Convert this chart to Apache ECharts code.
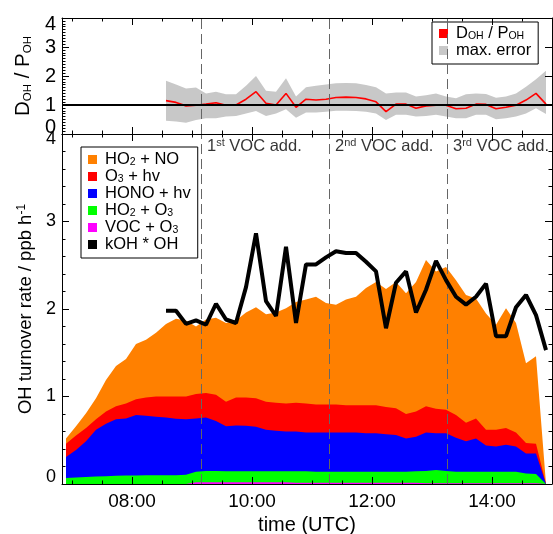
<!DOCTYPE html>
<html><head><meta charset="utf-8">
<script src="https://cdn.jsdelivr.net/npm/echarts@6/dist/echarts.min.js"></script>
<style>html,body{margin:0;padding:0;background:#fff}#c{width:553px;height:534px}</style>
</head><body><div id="c"></div>
<script>
// ---------------- data ----------------
const times = ['06:54','07:04','07:14','07:24','07:34','07:44','07:54','08:04','08:14','08:24',
  '08:34','08:44','08:54','09:04','09:14','09:24','09:34','09:44','09:54','10:04',
  '10:14','10:24','10:34','10:44','10:54','11:04','11:14','11:24','11:34','11:44',
  '11:54','12:04','12:14','12:24','12:34','12:44','12:54','13:04','13:14','13:24',
  '13:34','13:44','13:54','14:04','14:14','14:24','14:34','14:44','14:54'];
// OH production terms (ppb/h), stacked from the bottom: VOC+O3, HO2+O3, HONO+hv, O3+hv, HO2+NO
const vocO3 = [0,0,0,0,0,0,0,0,0,0, 0,0,0,.02,.02,.02,.02,.02,.02,.02,
  .02,.02,.02,.015,.015,.015,.015,.015,.015,.015, .015,.015,.015,.015,.015,.015,.01,.01,.01,.01,
  .01,.01,.01,.01,.01,.01,.01,.01,0];
const ho2O3 = [.068,.075,.08,.085,.09,.093,.096,.098,.10,.10, .10,.10,.105,.12,.13,.128,.125,.125,.125,.125,
  .125,.125,.125,.13,.13,.125,.125,.125,.125,.125, .125,.125,.125,.125,.125,.13,.14,.15,.14,.13,
  .13,.13,.13,.13,.13,.13,.11,.105,0];
const honoHv = [.242,.315,.41,.535,.60,.647,.654,.692,.68,.67, .66,.645,.635,.61,.61,.572,.515,.525,.52,.51,
  .475,.465,.455,.455,.445,.45,.45,.45,.45,.45, .44,.44,.43,.42,.38,.395,.44,.42,.43,.39,
  .35,.38,.30,.29,.31,.29,.23,.235,0];
const o3Hv = [.15,.165,.15,.12,.14,.15,.17,.18,.21,.23, .24,.255,.26,.28,.28,.30,.28,.32,.325,.325,
  .32,.32,.32,.33,.33,.32,.32,.32,.31,.31, .32,.32,.31,.305,.28,.29,.30,.28,.27,.26,
  .21,.23,.18,.19,.19,.16,.12,.11,0];
const ho2No = [.06,.105,.17,.24,.36,.46,.51,.63,.66,.73, .83,.89,.87,.77,.84,.88,.90,.88,.97,1.04,
  1.00,1.03,1.09,1.15,1.19,1.23,1.16,1.14,1.21,1.24, 1.34,1.41,1.35,1.445,1.38,1.48,1.67,1.57,1.63,1.54,
  1.46,1.37,1.33,1.20,1.37,1.25,.91,1.00,0];
// OH destruction kOH*OH (ppb/h)
const kohOh = [null,null,null,null,null,null,null,null,null,null,
  1.98,1.98,1.83,1.87,1.82,2.06,1.88,1.84,2.25,2.865,
  2.09,1.92,2.71,1.84,2.51,2.51,2.59,2.66,2.64,2.64,
  2.54,2.43,1.78,2.30,2.43,1.96,2.22,2.55,2.33,2.14,
  2.05,2.14,2.29,1.69,1.69,2.02,2.16,1.93,1.53];
// D_OH / P_OH and its max. error range
const ratio = [null,null,null,null,null,null,null,null,null,null,
  1.15,1.09,0.97,0.99,1.03,1.08,0.99,1.00,1.20,1.46,
  1.06,1.00,1.40,0.92,1.20,1.17,1.20,1.26,1.27,1.26,
  1.21,1.11,0.77,1.03,1.03,0.89,0.97,0.99,0.99,0.87,
  0.89,1.03,1.02,0.87,0.92,0.99,1.17,1.40,1.03];
const errLow = [null,null,null,null,null,null,null,null,null,null,
  0.46,0.43,0.39,0.48,0.54,0.54,0.60,0.62,0.71,0.79,
  0.62,0.71,0.85,0.56,0.74,0.74,0.77,0.80,0.80,0.79,
  0.77,0.71,0.48,0.66,0.66,0.60,0.62,0.66,0.60,0.54,
  0.54,0.66,0.66,0.51,0.54,0.60,0.71,0.89,0.69];
const errHigh = [null,null,null,null,null,null,null,null,null,null,
  1.84,1.71,1.57,1.60,1.40,1.46,1.37,1.37,1.66,2.00,
  1.49,1.46,1.92,1.29,1.61,1.66,1.71,1.75,1.76,1.75,
  1.69,1.61,1.40,1.43,1.43,1.29,1.34,1.40,1.29,1.23,
  1.37,1.40,1.38,1.25,1.29,1.40,1.63,1.89,2.18];
const vocAdditions = ['09:09','11:17','13:15'];
const vocLabels = ['1st','2nd','3rd'];
const xTickLabels = ['08:00','10:00','12:00','14:00'];
const yTickLabels = ['0','1','2','3','4'];

// ---------------- helpers ----------------
const FONT = '"Liberation Sans", Arial, Helvetica, sans-serif';
const toH = s => { const [h, m] = s.split(':').map(Number); return h + m / 60; };
const T = times.map(toH);
const pairs = arr => arr.map((v, i) => [T[i], v]);
const X_MIN = 6 + 50 / 60, X_MAX = 15;
const majorX = xTickLabels.map(toH);
const tickX = [];
for (let v = 7; v < X_MAX; v += 0.5) tickX.push(v);

function xAx(grid, pos, labels) {
  const a = {
    type: 'value', gridIndex: grid, position: pos, min: X_MIN, max: X_MAX, z: 10,
    axisLine: { show: true, onZero: false, lineStyle: { color: '#000', width: 1 } },
    axisTick: { show: false },
    axisLabel: { show: false },
    splitLine: { show: false }
  };
  if (labels) {
    a.axisLabel = { show: true, customValues: majorX, margin: 8, fontSize: 19, color: '#000', fontFamily: FONT,
      formatter: v => { const i = majorX.findIndex(m => Math.abs(m - v) < 1e-6); return i >= 0 ? xTickLabels[i] : ''; } };
  }
  return a;
}
function yAx(grid, pos, minorSplit, labelSize, shiftMin, shiftMax) {
  const a = {
    type: 'value', gridIndex: grid, position: pos, min: 0, max: 4, interval: 1, z: 10,
    axisLine: { show: true, onZero: false, lineStyle: { color: '#000', width: 1 } },
    axisTick: { show: true, inside: true, length: 7, lineStyle: { color: '#000' } },
    minorTick: { show: minorSplit > 0, splitNumber: minorSplit || 5, length: 3.5, lineStyle: { color: '#000' } },
    axisLabel: { show: false },
    splitLine: { show: false }, minorSplitLine: { show: false }
  };
  if (labelSize) {
    a.axisLabel = { show: true, margin: 6, fontSize: labelSize, color: '#000', fontFamily: FONT,
      showMinLabel: true, showMaxLabel: true,
      formatter: v => { const i = Math.round(v); const s = yTickLabels[i];
        return i === 0 ? '{lo|' + s + '}' : i === 4 ? '{hi|' + s + '}' : s; },
      rich: {
        lo: { fontSize: labelSize, fontFamily: FONT, color: '#000', padding: [0, 0, shiftMin * 2, 0] },
        hi: { fontSize: labelSize, fontFamily: FONT, color: '#000', padding: [shiftMax * 2, 0, 0, 0] }
      } };
  }
  return a;
}
// x-axis ticks drawn through the axis scale (inside, on bottom and top edges)
function tickSeries(xIdx, yIdx) {
  return {
    type: 'custom', xAxisIndex: xIdx, yAxisIndex: yIdx, silent: true, z: 10, clip: false, animation: false,
    data: tickX.map(v => [v, majorX.some(m => Math.abs(m - v) < 1e-6) ? 7 : 3.5]),
    renderItem: (params, api) => {
      const v = api.value(0), len = api.value(1);
      const b = api.coord([v, 0]), t = api.coord([v, 4]);
      const x = Math.round(b[0]) + 0.5;
      return { type: 'group', children: [
        { type: 'line', shape: { x1: x, y1: b[1], x2: x, y2: b[1] - len }, style: { stroke: '#000', lineWidth: 1 } },
        { type: 'line', shape: { x1: x, y1: t[1], x2: x, y2: t[1] + len }, style: { stroke: '#000', lineWidth: 1 } }
      ] };
    }
  };
}

const dashed = vocAdditions.map(t => ({ xAxis: toH(t) }));
const dashStyle = { color: '#666', width: 1, type: [10, 5] };

const legendRich = {
  n: { fontSize: 16.5, lineHeight: 17, fontFamily: FONT, color: '#000' },
  sub: { fontSize: 10.5, lineHeight: 8, verticalAlign: 'bottom', fontFamily: FONT, color: '#000' }
};
const legendNames = {
  'DOH / POH': '{n|D}{sub|OH}{n| / P}{sub|OH}',
  'max. error': '{n|max. error}',
  'HO2 + NO': '{n|HO}{sub|2}{n| + NO}',
  'O3 + hv': '{n|O}{sub|3}{n| + hv}',
  'HONO + hv': '{n|HONO + hv}',
  'HO2 + O3': '{n|HO}{sub|2}{n| + O}{sub|3}',
  'VOC + O3': '{n|VOC + O}{sub|3}',
  'kOH * OH': '{n|kOH * OH}'
};
function legend(left, top, names, pad) {
  return {
    left, top, orient: 'vertical', data: names, icon: 'rect', itemWidth: 9, itemHeight: 9, itemGap: 0,
    padding: pad, borderColor: '#000', borderWidth: 1, backgroundColor: '#fff',
    selectedMode: false,
    formatter: n => legendNames[n],
    textStyle: { padding: [0, 0, 0, 3], fontSize: 16.5, lineHeight: 17, fontFamily: FONT, color: '#000', rich: legendRich }
  };
}

// cumulative layer tops (production terms stacked from the bottom)
const layers = [
  { name: 'VOC + O3', data: vocO3, color: '#ff00ff' },
  { name: 'HO2 + O3', data: ho2O3, color: '#00ff00' },
  { name: 'HONO + hv', data: honoHv, color: '#0000ff' },
  { name: 'O3 + hv', data: o3Hv, color: '#ff0000' },
  { name: 'HO2 + NO', data: ho2No, color: '#ff8000' }
];
const running = T.map(() => 0);
layers.forEach(l => { l.top = l.data.map((v, i) => (running[i] = +(running[i] + v).toFixed(4))); });

const base = { type: 'line', symbol: 'none', showSymbol: false, animation: false, silent: true };
const areaSeries = layers.slice().reverse().map(l => Object.assign({}, base, {
  name: l.name, data: pairs(l.top), xAxisIndex: 2, yAxisIndex: 2,
  lineStyle: { width: 0 }, itemStyle: { color: l.color }, areaStyle: { color: l.color, opacity: 1 }
}));

const bandRows = T.map((t, i) => [t, errLow[i], errHigh[i]]).filter(r => r[1] != null);

const option = {
  animation: false,
  backgroundColor: '#fff',
  textStyle: { fontFamily: FONT },
  grid: [
    { left: 62, right: 1, top: 18, height: 116, containLabel: false, outerBoundsMode: 'none' },
    { left: 62, right: 1, top: 134, height: 350, containLabel: false, outerBoundsMode: 'none' }
  ],
  xAxis: [
    xAx(0, 'bottom', false),
    xAx(0, 'top', false),
    Object.assign(xAx(1, 'bottom', true), {
      name: 'time (UTC)', nameLocation: 'middle', nameGap: 31,
      nameTextStyle: { fontSize: 20, color: '#000', fontFamily: FONT }
    }),
    xAx(1, 'top', false)
  ],
  yAxis: [
    Object.assign(yAx(0, 'left', 10, 20, 7, 6), {
      name: '{n|D}{sub|OH}{n| / P}{sub|OH}', nameLocation: 'middle', nameRotate: 90, nameGap: 18,
      nameTextStyle: { rich: {
        n: { fontSize: 20.5, lineHeight: 22, fontFamily: FONT, color: '#000' },
        sub: { fontSize: 11.5, lineHeight: 12, verticalAlign: 'bottom', fontFamily: FONT, color: '#000' } } }
    }),
    yAx(0, 'right', 0, 0),
    Object.assign(yAx(1, 'left', 5, 18, 6.5, 5.5), {
      name: '{n|OH turnover rate / ppb h}{sup|-1}', nameLocation: 'middle', nameRotate: 90, nameGap: 21,
      nameTextStyle: { rich: {
        n: { fontSize: 18.5, lineHeight: 20, fontFamily: FONT, color: '#000' },
        sup: { fontSize: 12, lineHeight: 6, verticalAlign: 'top', fontFamily: FONT, color: '#000' } } }
    }),
    yAx(1, 'right', 5, 0)
  ],
  legend: [
    legend(432, 22, ['DOH / POH', 'max. error'], [3, 7, 5, 7]),
    legend(81, 147, ['HO2 + NO', 'O3 + hv', 'HONO + hv', 'HO2 + O3', 'VOC + O3', 'kOH * OH'], [4, 7, 5, 7])
  ],
  series: [
    // ----- top panel -----
    {
      type: 'custom', name: 'max. error', xAxisIndex: 0, yAxisIndex: 0, z: 1, silent: true, animation: false,
      itemStyle: { color: '#c8c8c8' },
      encode: { x: 0, y: [1, 2] },
      data: bandRows,
      renderItem: (params, api) => {
        if (params.dataIndex !== 0) return null;
        const pts = bandRows.map(r => api.coord([r[0], r[2]]))
          .concat(bandRows.slice().reverse().map(r => api.coord([r[0], r[1]])));
        return { type: 'polygon', shape: { points: pts }, style: { fill: '#c8c8c8' } };
      },
      markLine: { silent: true, symbol: ['none', 'none'], label: { show: false }, animation: false,
        data: [
          { yAxis: 1, lineStyle: { color: '#000', width: 2, type: 'solid' } },
          ...dashed.map(d => Object.assign({ lineStyle: dashStyle }, d))
        ] }
    },
    Object.assign({}, base, { name: 'DOH / POH', data: pairs(ratio), xAxisIndex: 0, yAxisIndex: 0, z: 4,
      lineStyle: { color: '#ff0000', width: 1.6 }, itemStyle: { color: '#ff0000' } }),
    tickSeries(0, 0),
    // ----- main panel -----
    ...areaSeries,
    Object.assign({}, base, { name: 'kOH * OH', data: pairs(kohOh), xAxisIndex: 2, yAxisIndex: 2, z: 5,
      lineStyle: { color: '#000', width: 4 }, itemStyle: { color: '#000' },
      markLine: { silent: true, symbol: ['none', 'none'], label: { show: false }, animation: false,
        lineStyle: dashStyle, data: dashed } }),
    tickSeries(2, 2),
    {
      type: 'scatter', name: 'annot', xAxisIndex: 2, yAxisIndex: 2, symbolSize: 0, silent: true, z: 6,
      data: vocAdditions.map((t, i) => ({ value: [toH(t), 3.86], lab: vocLabels[i] })),
      label: { show: true, position: 'right', distance: 6, color: '#000',
        formatter: p => '{n|' + p.data.lab.slice(0, 1) + '}{sup|' + p.data.lab.slice(1) + '}{n| VOC add.}',
        rich: {
          n: { fontSize: 16.5, lineHeight: 17, fontFamily: FONT, color: '#000' },
          sup: { fontSize: 11, lineHeight: 5, verticalAlign: 'top', fontFamily: FONT, color: '#000' } } }
    }
  ]
};
const chart = echarts.init(document.getElementById('c'), null, { renderer: 'canvas' });
chart.setOption(option);
</script></body></html>
